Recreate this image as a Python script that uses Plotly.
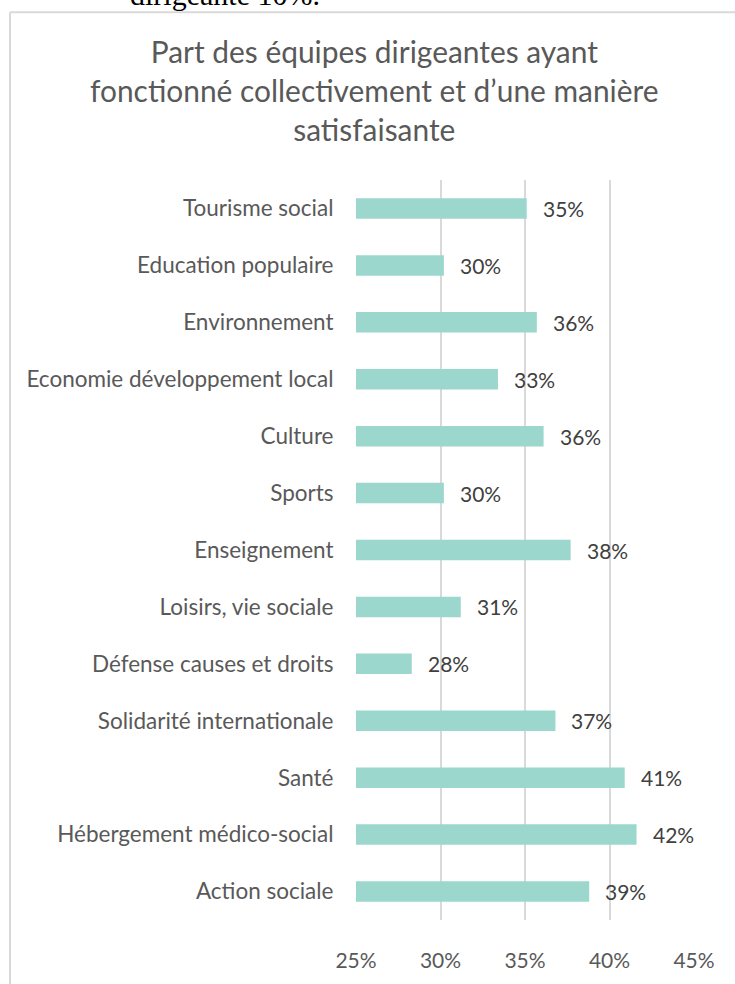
import plotly.graph_objects as go

categories = ["Tourisme social", "Education populaire", "Environnement",
              "Economie développement local", "Culture", "Sports", "Enseignement",
              "Loisirs, vie sociale", "Défense causes et droits",
              "Solidarité internationale", "Santé", "Hébergement médico-social",
              "Action sociale"]
values = [35.1, 30.2, 35.7, 33.4, 36.1, 30.2, 37.7, 31.2, 28.3, 36.8, 40.9, 41.6, 38.8]
labels = ["35%", "30%", "36%", "33%", "36%", "30%", "38%", "31%", "28%", "37%", "41%", "42%", "39%"]
tick_vals = [25, 30, 35, 40, 45]
tick_text = ["25%", "30%", "35%", "40%", "45%"]
title_text = "Part des équipes dirigeantes ayant<br>fonctionné collectivement et d’une manière<br>satisfaisante"
cut_text = "dirigeante 10%."

W, H = 735, 984
L, R, T, B = 355.5, 694.0, 180.0, 930.0
pw, ph = R - L, B - T

def px_x(x):
    return (x - L) / pw

def px_y(y):
    return (B - y) / ph

FONT = "Lato"

fig = go.Figure()
fig.add_trace(go.Bar(
    y=categories, x=values, base=0, orientation="h",
    marker=dict(color="#9BD7CD", line=dict(width=0)),
    hoverinfo="skip",
))

for c, v, t in zip(categories, values, labels):
    fig.add_annotation(x=v, y=c, xref="x", yref="y", text=t, showarrow=False,
                       xanchor="left", xshift=14,
                       font=dict(family=FONT, size=21, color="#404040"))

fig.add_annotation(x=px_x(374), y=px_y(89), xref="paper", yref="paper",
                   text=title_text, showarrow=False, xanchor="center", yanchor="middle",
                   font=dict(family=FONT, size=29.9, color="#595959"))

fig.add_annotation(x=px_x(127), y=px_y(-8), xref="paper", yref="paper",
                   text=cut_text, showarrow=False, xanchor="left", yanchor="middle",
                   font=dict(family="Liberation Serif", size=30, color="#000000"))

# chart border
fig.add_shape(type="line", xref="paper", yref="paper",
              x0=px_x(9), x1=px_x(745), y0=px_y(10), y1=px_y(10),
              line=dict(color="#D9D9D9", width=2))
fig.add_shape(type="line", xref="paper", yref="paper",
              x0=px_x(9), x1=px_x(9), y0=px_y(10), y1=px_y(995),
              line=dict(color="#D9D9D9", width=2))

fig.update_layout(
    width=W, height=H,
    margin=dict(l=L, r=W - R, t=T, b=H - B, pad=0),
    paper_bgcolor="white", plot_bgcolor="white",
    showlegend=False, bargap=0.64,
    xaxis=dict(range=[25, 45], tickvals=tick_vals, ticktext=tick_text,
               showgrid=True, gridcolor="#D9D9D9", gridwidth=1.5,
               zeroline=False, showline=False,
               ticks="outside", ticklen=22, tickcolor="rgba(0,0,0,0)",
               tickfont=dict(family=FONT, size=21, color="#595959")),
    yaxis=dict(categoryorder="array", categoryarray=categories[::-1],
               showgrid=False, zeroline=False, showline=False,
               ticks="outside", ticklen=17, tickcolor="rgba(0,0,0,0)",
               tickfont=dict(family=FONT, size=22.5, color="#595959")),
)

fig.write_html("out.html", config={"displayModeBar": False},
               post_script="document.body.style.margin='0px';document.body.style.overflow='hidden';")
